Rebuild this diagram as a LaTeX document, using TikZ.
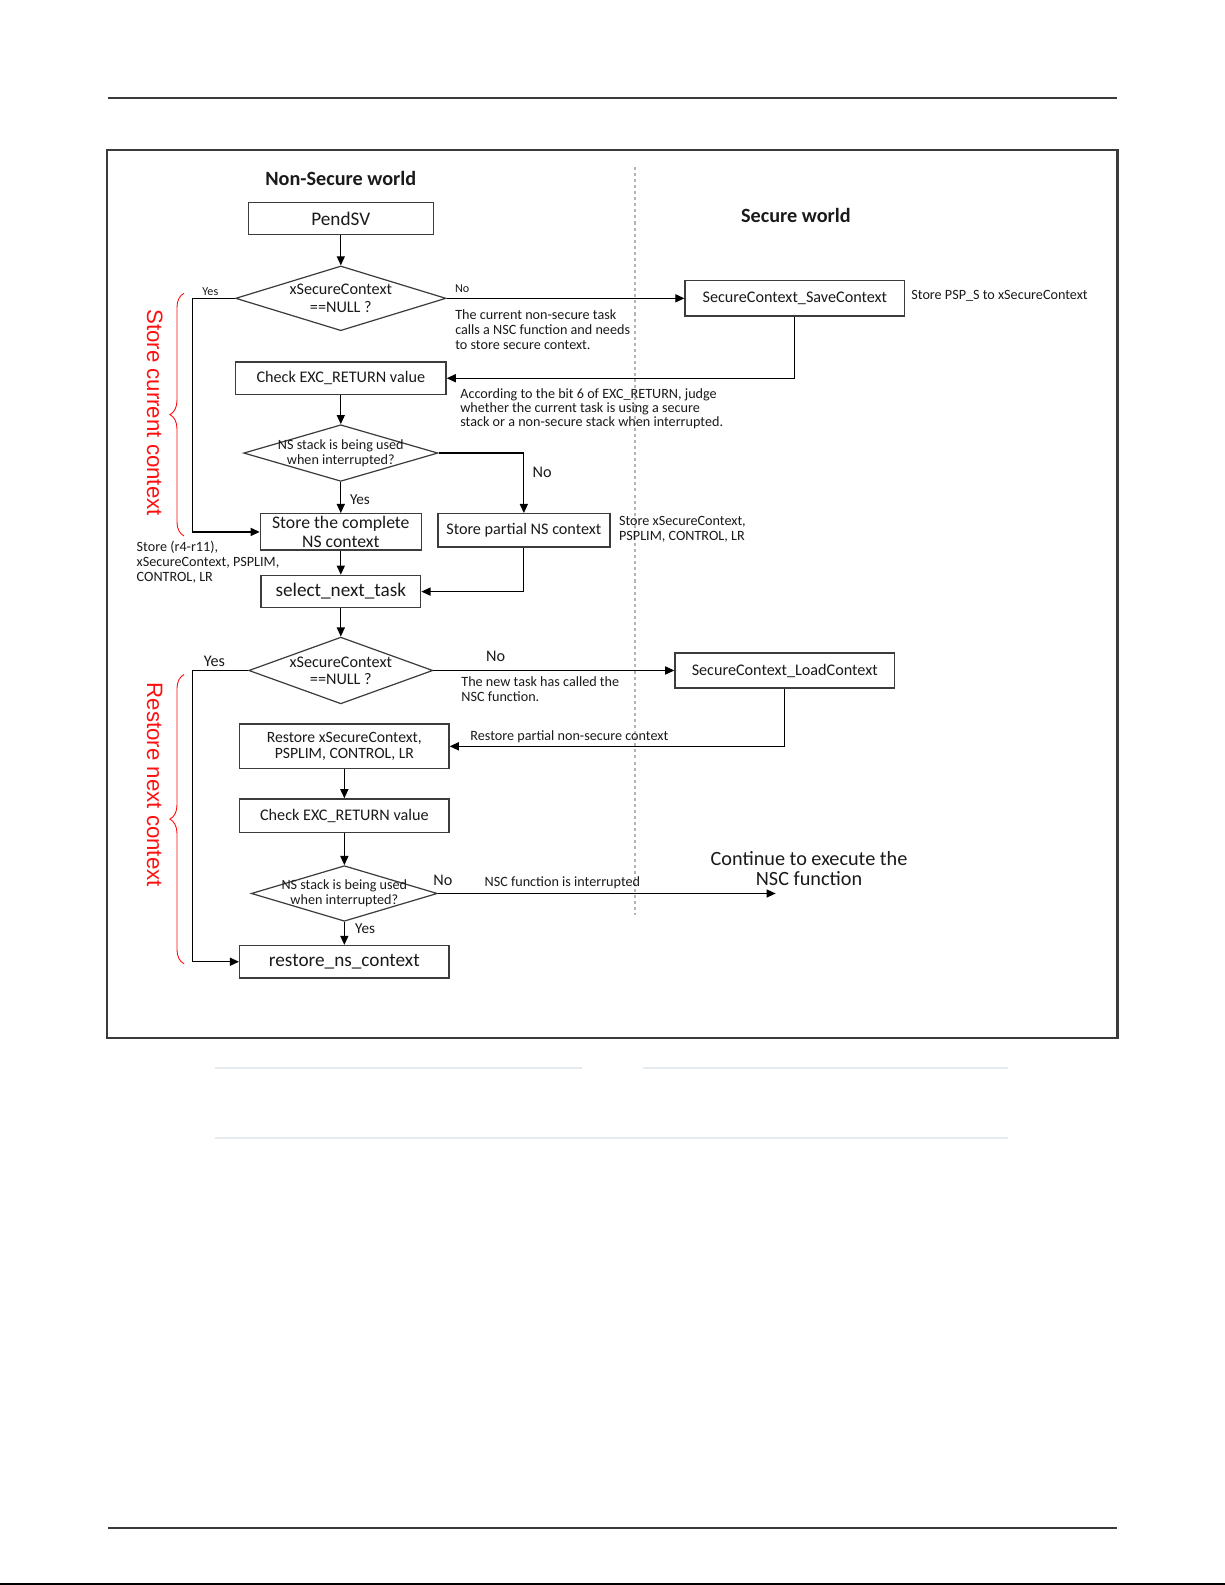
\documentclass[tikz,border=0pt]{standalone}
\usepackage{fontspec}
\setmainfont{Carlito}
\newfontfamily\redfont{Liberation Sans}
\usetikzlibrary{shapes.geometric,arrows.meta,decorations.pathreplacing}
\newcommand{\fz}[2]{\fontsize{#1pt}{#2pt}\selectfont}
\definecolor{txt}{HTML}{1A1A1A}
\definecolor{boxc}{HTML}{3C3C3C}
\definecolor{framec}{HTML}{3A3A3A}
\definecolor{dashc}{HTML}{B4B4B4}
\definecolor{faint}{HTML}{E6EBF0}
\definecolor{redc}{HTML}{FF1010}
\begin{document}
\begin{tikzpicture}[x=1pt,y=-1pt,
  box/.style={draw=boxc, line width=1.4pt, inner sep=0pt, align=center, text=txt},
  dia/.style={draw=boxc, line width=1.2pt, diamond, inner sep=0pt},
  ctext/.style={align=center, text=txt, inner sep=0pt},
  note/.style={align=left, text=txt, inner sep=0pt, anchor=west},
  lbl/.style={text=txt, inner sep=0pt},
  conn/.style={draw=black, line width=1.2pt},
  arr/.style={conn, -{Triangle[length=9pt,width=8pt]}},
  redtxt/.style={text=redc, inner sep=0pt, rotate=-90, font=\redfont\fz{22}{24}},
  redbrace/.style={draw=redc, line width=0.9pt, decorate, decoration={brace, amplitude=14pt}}
]
\useasboundingbox[fill=white] (0,0) rectangle (1211.3,1567.3);

% page decorations
\draw[framec, line width=2pt] (107,97) -- (1105,97);
\draw[framec, line width=2pt] (107,1511) -- (1105,1511);
\draw[black, line width=2pt] (0,1566.3) -- (1211.3,1566.3);
\draw[framec, line width=2pt] (106,148) rectangle (1105,1026);
\draw[faint, line width=2pt] (213,1056) -- (575,1056);
\draw[faint, line width=2pt] (636,1056) -- (997,1056);
\draw[faint, line width=2pt] (213,1125) -- (997,1125);

% dashed separator
\draw[dashc, line width=1.2pt, dash pattern=on 3pt off 3pt] (628,165) -- (628,905);

% titles
\node[lbl, font=\bfseries\fz{20}{22}] (tns) at (337,176) {Non-Secure world};
\node[lbl, font=\bfseries\fz{20}{22}] (tsw) at (787,213) {Secure world};

% nodes
\node[box, minimum width=183pt, minimum height=32pt, font=\fz{19}{21}] (pend) at (337,216) {PendSV};
\node[dia, minimum width=208pt, minimum height=64pt,
  label={[ctext, font=\fz{16}{17}]center:{xSecureContext\\==NULL ?}}] (d1) at (337,295) {};
\node[box, minimum width=217pt, minimum height=35pt, font=\fz{16}{18}] (save) at (786,295) {SecureContext\_SaveContext};
\node[box, minimum width=208pt, minimum height=32pt, font=\fz{16}{18}] (chk1) at (337,374) {Check EXC\_RETURN value};
\node[dia, minimum width=192pt, minimum height=56pt,
  label={[ctext, font=\fz{14}{15}]center:{NS stack is being used\\when interrupted?}}] (d2) at (337,448) {};
\node[box, minimum width=159pt, minimum height=36pt, font=\fz{17.5}{18}] (comp) at (337,526) {Store the complete\\NS context};
\node[box, minimum width=170pt, minimum height=33pt, font=\fz{16}{18}] (part) at (518,524.5) {Store partial NS context};
\node[box, minimum width=158pt, minimum height=32pt, font=\fz{19}{21}] (sel) at (337,585) {select\_next\_task};
\node[dia, minimum width=182pt, minimum height=66pt,
  label={[ctext, font=\fz{16}{17}]center:{xSecureContext\\==NULL ?}}] (d3) at (337,663) {};
\node[box, minimum width=217pt, minimum height=35pt, font=\fz{16}{18}] (load) at (776,663) {SecureContext\_LoadContext};
\node[box, minimum width=207pt, minimum height=44pt, font=\fz{15.5}{16}] (rst) at (340.5,738) {Restore xSecureContext,\\PSPLIM, CONTROL, LR};
\node[box, minimum width=207pt, minimum height=33pt, font=\fz{16}{18}] (chk2) at (340.5,806.5) {Check EXC\_RETURN value};
\node[dia, minimum width=184pt, minimum height=55pt,
  label={[ctext, font=\fz{14}{15}]center:{NS stack is being used\\when interrupted?}}] (d4) at (340.5,883.5) {};
\node[box, minimum width=207pt, minimum height=32pt, font=\fz{19}{21}] (rns) at (340.5,951) {restore\_ns\_context};
\node[ctext, font=\fz{20}{20}] (cont) at (800,859) {Continue to execute the\\NSC function};
\coordinate (contend) at (767,883.5);
\coordinate (lbus) at (190,0);

% notes
\node[note, font=\fz{14}{14.5}] (n1) at (450,326) {The current non-secure task\\calls a NSC function and needs\\to store secure context.};
\node[note, font=\fz{14}{14}] (n2) at (455,404) {According to the bit 6 of EXC\_RETURN, judge\\whether the current task is using a secure\\stack or a non-secure stack when interrupted.};
\node[note, font=\fz{14}{15}] (n3) at (612,523.5) {Store xSecureContext,\\PSPLIM, CONTROL, LR};
\node[note, font=\fz{14}{14.5}] (n4) at (135,556) {Store (r4-r11),\\xSecureContext, PSPLIM,\\CONTROL, LR};
\node[note, font=\fz{14}{15}] (n5) at (456,681.5) {The new task has called the\\NSC function.};
\node[note, font=\fz{14}{15}] (n6) at (465,728) {Restore partial non-secure context};
\node[note, font=\fz{14}{15}] (n7) at (479,873) {NSC function is interrupted};
\node[note, font=\fz{14}{15}] (n8) at (901,293) {Store PSP\_S to xSecureContext};

% yes/no labels
\node[lbl, font=\fz{12}{13}] (y1) at (208,288) {Yes};
\node[lbl, font=\fz{12}{13}] (no1) at (457,285) {No};
\node[lbl, font=\fz{16}{17}] (no2) at (536,467) {No};
\node[lbl, font=\fz{15}{16}] (y2) at (356,494) {Yes};
\node[lbl, font=\fz{16}{17}] (y3) at (212,654) {Yes};
\node[lbl, font=\fz{16}{17}] (no3) at (490,649) {No};
\node[lbl, font=\fz{16}{17}] (no4) at (438,871) {No};
\node[lbl, font=\fz{15}{16}] (y4) at (361,918) {Yes};

% red braces and labels
\node[redtxt] (rl1) at (153,408) {Store current context};
\node[redtxt] (rl2) at (153,776) {Restore next context};
\draw[redbrace] (182,530) -- (182,290);
\draw[redbrace] (182,953) -- (182,667);

% connectors
\draw[arr] (pend.south) -- (d1.north);
\draw[arr] (d1.west) -- (d1.west -| lbus) |- (comp.west);
\draw[arr] (d1.east) -- (save.west);
\draw[arr] (save.south) |- (chk1.east);
\draw[arr] (chk1.south) -- (d2.north);
\draw[arr] (d2.east) -| (part.north);
\draw[arr] (d2.south) -- (comp.north);
\draw[arr] (comp.south) -- (sel.north);
\draw[arr] (part.south) |- (sel.east);
\draw[arr] (sel.south) -- (d3.north);
\draw[arr] (d3.west) -- (d3.west -| lbus) |- (rns.west);
\draw[arr] (d3.east) -- (load.west);
\draw[arr] (load.south) |- (rst.east);
\draw[arr] (rst.south) -- (chk2.north);
\draw[arr] (chk2.south) -- (d4.north);
\draw[arr] (d4.east) -- (contend);
\draw[arr] (d4.south) -- (rns.north);
\end{tikzpicture}
\end{document}
